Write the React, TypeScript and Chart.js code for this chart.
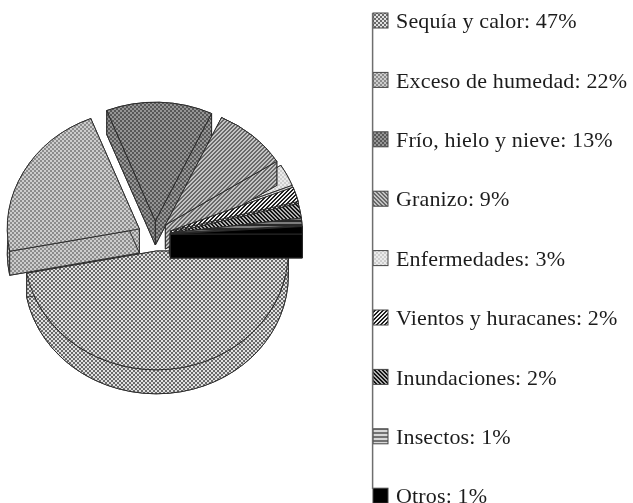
import React, { useEffect, useRef } from "react";
import { Chart, registerables } from "chart.js";

Chart.register(...registerables);

const categories = [
  "Sequía y calor",
  "Exceso de humedad",
  "Frío, hielo y nieve",
  "Granizo",
  "Enfermedades",
  "Vientos y huracanes",
  "Inundaciones",
  "Insectos",
  "Otros",
];
const shares = [47, 22, 13, 9, 3, 2, 2, 1, 1];
const labels = categories.map((c, i) => `${c}: ${shares[i]}%`);

// Look of the tilted, exploded pie (pixel shift of each slice from the pie centre)
const shiftX = [1, -16, 0, 10, 14, 15, 15, 15, 15];
const shiftY = [18, -4, -12.5, -8, -4, -2, 0, 0, 1];
const paintOrder = [0, 2, 1, 4, 3, 5, 6, 7, 8];
const TILT = 0.9;
const DEPTH = 24;
const CENTER_X = 155;
const CENTER_Y = 233;
const BOX = 15;

const checker = (a: number, b: number) => [
  [a, a, b, b],
  [a, a, b, b],
  [b, b, a, a],
  [b, b, a, a],
];
const diagUp = (a: number, b: number) => [
  [a, a, b, b],
  [a, b, b, a],
  [b, b, a, a],
  [b, a, a, b],
];
const diagDown = (a: number, b: number) => [
  [a, a, b, b],
  [b, a, a, b],
  [b, b, a, a],
  [a, b, b, a],
];
const bands = (a: number, b: number) => [
  [a, a],
  [a, a],
  [b, b],
  [b, b],
];
const swatches: number[][][] = [
  checker(105, 225),
  checker(140, 205),
  checker(88, 150),
  diagUp(105, 195),
  checker(205, 235),
  diagUp(30, 240),
  diagDown(20, 175),
  bands(40, 125),
  [[0]],
];
const legendSwatches: number[][][] = [
  checker(105, 225),
  checker(140, 205),
  checker(88, 150),
  diagDown(105, 195),
  checker(205, 235),
  diagUp(30, 240),
  diagDown(20, 175),
  bands(115, 215),
  [[0]],
];

function makePattern(ctx: CanvasRenderingContext2D, rows: number[][], scaleY: number) {
  const c = document.createElement("canvas");
  c.height = rows.length;
  c.width = rows[0].length;
  const g = c.getContext("2d")!;
  rows.forEach((row, y) =>
    row.forEach((v, x) => {
      g.fillStyle = `rgb(${v},${v},${v})`;
      g.fillRect(x, y, 1, 1);
    })
  );
  const p = ctx.createPattern(c, "repeat")!;
  p.setTransform(new DOMMatrix().scale(1, scaleY));
  return p;
}

const pie3d = {
  id: "pie3d",
  beforeDraw(chart: any) {
    const ctx = chart.ctx;
    ctx.save();
    ctx.fillStyle = "#ffffff";
    ctx.fillRect(0, 0, chart.width, chart.height);
    ctx.restore();
    ctx.imageSmoothingEnabled = false;
    ctx.letterSpacing = "0.15px";
  },
  afterLayout(chart: any) {
    const lg = chart.legend;
    const pad = lg.options.labels.padding;
    const w = lg.width;
    lg.left = 373 - pad;
    lg.right = lg.left + w;
    lg.top = 11.5 - pad;
    lg.bottom = chart.height;
  },
  beforeDatasetDraw(chart: any, args: any) {
    const ctx: CanvasRenderingContext2D = chart.ctx;
    const arcs = args.meta.data;
    const d = DEPTH / TILT;
    ctx.save();
    paintOrder.forEach((i) => {
      const arc = arcs[i];
      const tx = Math.round(CENTER_X - arc.x + shiftX[i]);
      const ty = Math.round(CENTER_Y - arc.y * TILT + shiftY[i]);
      const { x, y, outerRadius: r, startAngle: a0, endAngle: a1 } = arc;
      const o = arc.options;
      // lower face
      ctx.setTransform(1, 0, 0, TILT, tx, ty + DEPTH);
      arc.draw(ctx, chart.chartArea);
      ctx.setTransform(1, 0, 0, TILT, tx, ty);
      ctx.fillStyle = o.backgroundColor;
      ctx.strokeStyle = o.borderColor;
      ctx.lineWidth = o.borderWidth;
      // rim
      ctx.beginPath();
      ctx.arc(x, y, r, a0, a1);
      ctx.arc(x, y + d, r, a1, a0, true);
      ctx.closePath();
      ctx.fill();
      ctx.stroke();
      // the two cut faces
      [a0, a1].forEach((a) => {
        const ex = x + r * Math.cos(a);
        const ey = y + r * Math.sin(a);
        ctx.beginPath();
        ctx.moveTo(x, y);
        ctx.lineTo(ex, ey);
        ctx.lineTo(ex, ey + d);
        ctx.lineTo(x, y + d);
        ctx.closePath();
        ctx.fill();
        ctx.stroke();
      });
      // upper face
      arc.draw(ctx, chart.chartArea);
    });
    ctx.restore();
    return false;
  },
  afterDraw(chart: any) {
    const ctx = chart.ctx;
    const lg = chart.legend;
    const pad = lg.options.labels.padding;
    const size = lg.options.labels.font.size;
    const left = lg.left + pad;
    ctx.save();
    // legend swatches at their full width
    lg.legendItems.forEach((_: any, i: number) => {
      const top = lg.top + pad + i * (size + pad) + (size - BOX) / 2 - 2;
      ctx.strokeStyle = "#444444";
      ctx.lineWidth = 1;
      ctx.clearRect(left - 1, top - 1, BOX + 2, BOX + 5);
      ctx.fillStyle = "#ffffff";
      ctx.fillRect(left - 1, top - 1, BOX + 2, BOX + 5);
      ctx.fillStyle = makePattern(ctx, legendSwatches[i], 1);
      ctx.fillRect(left, top, BOX, BOX);
      ctx.strokeRect(left, top, BOX, BOX);
    });
    // vertical rule through the swatches
    ctx.strokeStyle = "#6e6e6e";
    ctx.lineWidth = 1.5;
    ctx.beginPath();
    ctx.moveTo(left - 0.4, 13);
    ctx.lineTo(left - 0.4, 489);
    ctx.stroke();
    ctx.restore();
  },
};

export default function App() {
  const ref = useRef<HTMLCanvasElement>(null);
  useEffect(() => {
    const ctx = ref.current!.getContext("2d")!;
    const patterns = swatches.map((s) => makePattern(ctx, s, 1 / TILT));
    const chart = new Chart(ctx, {
      type: "pie",
      data: {
        labels,
        datasets: [
          {
            data: shares,
            backgroundColor: patterns,
            borderColor: "#2a2a2a",
            borderWidth: 1,
            hoverOffset: 0,
          },
        ],
      },
      options: {
        responsive: false,
        animation: false,
        events: [],
        rotation: 90,
        radius: 132,
        plugins: {
          tooltip: { enabled: false },
          title: { display: false },
          legend: {
            display: true,
            position: "right",
            align: "start",
            labels: {
              boxWidth: 12,
              boxHeight: 15,
              padding: 37.4,
              color: "#1c1c1c",
              font: { family: "'Liberation Serif'", size: 22 },
            },
          },
        },
      },
      plugins: [pie3d],
    } as any);
    return () => chart.destroy();
  }, []);
  return (
    <div style={{ position: "absolute", left: 0, top: 0, width: 633, height: 503, overflow: "hidden", background: "#fff" }}>
      <canvas ref={ref} width={633} height={660} style={{ display: "block", width: 633, height: 660 }} />
    </div>
  );
}
